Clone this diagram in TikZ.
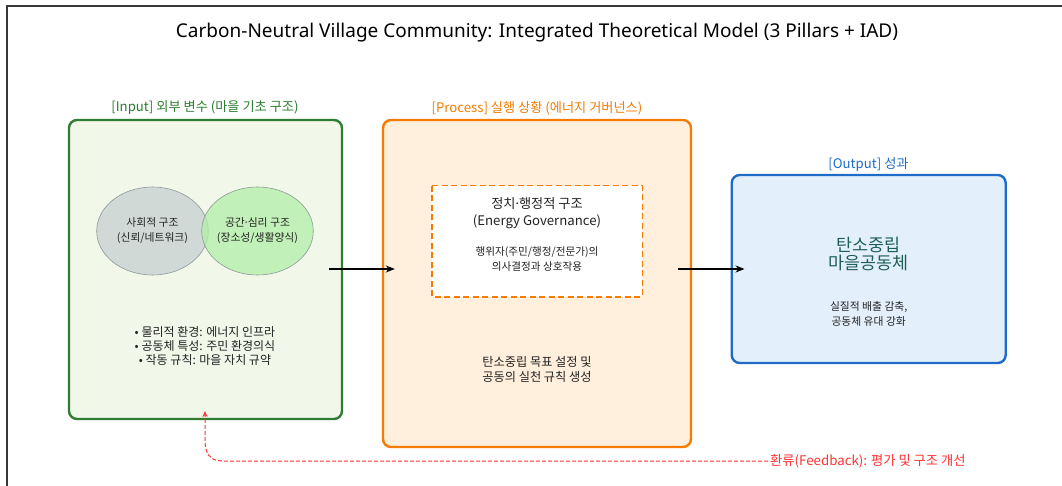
\documentclass[tikz,border=0pt]{standalone}
\usepackage{fontspec}
\setmainfont{Noto Sans CJK KR}
\newfontfamily\latinf{Noto Sans}
\usetikzlibrary{arrows.meta}
\definecolor{ingreen}{HTML}{2E7D32}
\definecolor{infill}{HTML}{F1F7E9}
\definecolor{porange}{HTML}{F57C00}
\definecolor{pfill}{HTML}{FFEFDC}
\definecolor{oblue}{HTML}{1E6CC8}
\definecolor{ofill}{HTML}{E3F0FC}
\definecolor{ellgray}{HTML}{C5D0D0}
\definecolor{ellgreen}{HTML}{B2EEA8}
\definecolor{ellline}{HTML}{8E9A98}
\definecolor{teal}{HTML}{1F5F55}
\definecolor{fbred}{HTML}{FF3333}
\definecolor{txt}{HTML}{222222}
\newcommand{\mdot}{{\latinf\char"00B7}}
\tikzset{
  panel/.style={draw, rounded corners=8pt, line width=2.4pt},
  grouplabel/.style={font=\fontsize{13.2}{15}\selectfont, anchor=center},
  venn/.style={draw=ellline, line width=0.6pt, fill opacity=0.75, text opacity=1,
    ellipse, minimum width=111.6pt, minimum height=88pt, inner sep=0pt},
  small/.style={font=\fontsize{10.8}{15}\selectfont, text=txt, align=center},
  body/.style={font=\fontsize{12.2}{15}\selectfont, text=txt, align=center},
  flow/.style={-{Stealth[length=9pt,width=7pt]}, line width=2pt, black},
}
\usetikzlibrary{shapes.geometric}
\begin{document}
\begin{tikzpicture}[x=1pt,y=-1pt]
\useasboundingbox (0,0) rectangle (1062,486);
\fill[white] (0,0) rectangle (1062,486);
% frame
\draw[line width=1.6pt, color=black!78] (7,486) -- (7,6) -- (1062,6);
% title
\node (title) at (537,32.5) {\latinf\fontsize{19}{22}\selectfont Carbon-Neutral Village Community: Integrated Theoretical Model (3 Pillars + IAD)};

% input panel
\draw[panel, draw=ingreen, fill=infill] (69,120) rectangle (342,419);
\node (inbox) at (205.5,269.5) [minimum width=273pt, minimum height=299pt, inner sep=0pt] {};
\node[grouplabel, text=ingreen] (inlabel) at (205,108) {[Input] 외부 변수 (마을 기초 구조)};
\node[venn, fill=ellgray] (social) at (152.5,231) {};
\node[venn, fill=ellgreen] (space) at (257.5,231) {};
\node[small] (socialtxt) at (152.5,231) {사회적 구조\\(신뢰/네트워크)};
\node[small] (spacetxt) at (257.5,231) {공간\mdot 심리 구조\\(장소성/생활양식)};
\node[body, font=\fontsize{12}{14}\selectfont] (bullets) at (205,346) {• 물리적 환경: 에너지 인프라\\• 공동체 특성: 주민 환경의식\\• 작동 규칙: 마을 자치 규약};

% process panel
\draw[panel, draw=porange, fill=pfill] (383,120) rectangle (691,447);
\node (procbox) at (537,283.5) [minimum width=308pt, minimum height=327pt, inner sep=0pt] {};
\node[grouplabel, text=porange] (proclabel) at (537,108) {[Process] 실행 상황 (에너지 거버넌스)};
\draw[draw=porange, fill=white, line width=1.6pt, dash pattern=on 6pt off 3.5pt] (431.7,185.7) rectangle (642.3,296.7);
\node[font=\fontsize{13.2}{16.7}\selectfont, align=center, text=txt] (gov) at (537,213.5) {정치\mdot 행정적 구조\\(Energy Governance)};
\node[small, font=\fontsize{10.6}{15}\selectfont] (actors) at (537,259.2) {행위자(주민/행정/전문가)의\\의사결정과 상호작용};
\node[body] (goal) at (537,369.2) {탄소중립 목표 설정 및\\공동의 실천 규칙 생성};

% output panel
\draw[panel, draw=oblue, fill=ofill] (731.7,175) rectangle (1005.7,363);
\node (outbox) at (868.7,269) [minimum width=274pt, minimum height=188pt, inner sep=0pt] {};
\node[grouplabel, text=oblue] (outlabel) at (868.5,164.5) {[Output] 성과};
\node[font=\fontsize{17.4}{18.5}\selectfont, align=center, text=teal] (cn) at (868.7,254) {탄소중립\\마을공동체};
\node[small] (result) at (868.7,314.2) {실질적 배출 감축,\\공동체 유대 강화};

% flow arrows
\draw[flow] ([xshift=-13pt]inbox.east |- 0,269) -- ([xshift=12pt]procbox.west |- 0,269);
\draw[flow] ([xshift=-13pt]procbox.east |- 0,269) -- ([xshift=13pt]outbox.west |- 0,269);

% feedback
\node[anchor=west, text=fbred, font=\fontsize{13.3}{15}\selectfont, inner sep=2pt] (fb) at (768,461) {환류(Feedback): 평가 및 구조 개선};
\coordinate (fbtip) at (205,411);
\draw[fbred, line width=1pt, dash pattern=on 4pt off 2pt, -{Stealth[length=6pt,width=5pt]}]
  (fb.west) -- (222,461) .. controls (209,461) and (205,452) .. (205,440) -- (fbtip);
\end{tikzpicture}
\end{document}
